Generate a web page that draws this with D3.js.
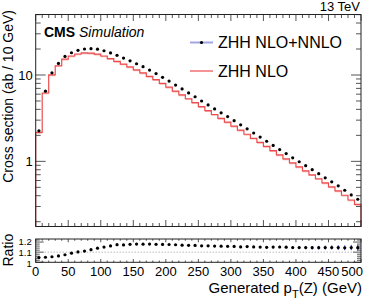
<!DOCTYPE html>
<head>
  <meta charset="utf-8">
  <script src="https://d3js.org/d3.v7.min.js"></script>
  <style>
    body { margin:0; background:#fff; }
    text { font-family: "Liberation Sans", Arial, sans-serif; fill:#000; }
    .frame { fill:none; stroke:#222; stroke-width:1; }
    .tick { stroke:#555; stroke-width:1; }
  </style>
</head>

<body>
  <script>
    // bin lower edges, 10 GeV wide, 0-500 GeV
    var binLo = d3.range(0, 500, 10);
    // ZHH NLO cross section per bin (ab / 10 GeV)
    var nlo = [2.16, 6.19, 10.05, 12.8, 15.26, 16.6, 17.5, 18.0, 17.96, 17.46,
               16.6, 15.5, 14.4, 13.4, 12.4, 11.44, 10.6, 9.66, 8.83, 7.99,
               7.23, 6.52, 5.9, 5.31, 4.80, 4.30, 3.87, 3.49, 3.15, 2.85,
               2.56, 2.30, 2.06, 1.85, 1.66, 1.49, 1.33, 1.19, 1.07, 0.96,
               0.864, 0.777, 0.699, 0.629, 0.563, 0.506, 0.454, 0.405, 0.357, 0.318];
    // ZHH NLO+NNLO
    var nnlo = [2.26, 6.5, 10.6, 13.6, 16.4, 18.1, 19.3, 20.0, 20.2, 19.9,
                19.1, 18.0, 16.9, 15.7, 14.6, 13.5, 12.5, 11.4, 10.4, 9.4,
                8.5, 7.65, 6.9, 6.2, 5.6, 5.0, 4.5, 4.05, 3.65, 3.3,
                2.96, 2.65, 2.38, 2.13, 1.91, 1.71, 1.53, 1.37, 1.23, 1.10,
                0.99, 0.89, 0.80, 0.72, 0.645, 0.58, 0.52, 0.463, 0.409, 0.364];
    // relative stat. uncertainty of NLO+NNLO
    var nnloErr = [0.002, 0.002, 0.002, 0.002, 0.002, 0.002, 0.002, 0.002, 0.002, 0.002,
                   0.002, 0.002, 0.002, 0.002, 0.003, 0.003, 0.003, 0.003, 0.003, 0.003,
                   0.004, 0.004, 0.004, 0.004, 0.005, 0.005, 0.005, 0.006, 0.006, 0.006,
                   0.007, 0.007, 0.008, 0.008, 0.009, 0.009, 0.010, 0.011, 0.011, 0.012,
                   0.013, 0.014, 0.015, 0.016, 0.017, 0.018, 0.020, 0.021, 0.023, 0.025];
    var xTickVals = d3.range(0, 501, 50);
    var yMajor = [1, 10];
    var ratioTicks = [1, 1.1, 1.2];

    var W = 374, H = 302;
    var L = 35.7, R = 361;
    var mainTop = 14.5, mainBot = 226.5;
    var ratTop = 239, ratBot = 262.3;

    var svg = d3.select('body').append('svg')
      .attr('width', W).attr('height', H);

    var x = d3.scaleLinear().domain([0, 500]).range([L, R]);
    var y = d3.scaleLog().domain([0.176, 50.2]).range([mainBot, mainTop]);
    var yr = d3.scaleLinear().domain([1.0, 1.23]).range([ratBot, ratTop]);

    // ---- main panel ----
    var band = svg.append('g');
    var stepPts = [];
    binLo.forEach(function(b, i) {
      stepPts.push([b, nlo[i]], [b + 10, nlo[i]]);
    });
    var line = d3.line().x(function(d) { return x(d[0]); }).y(function(d) { return y(d[1]); });
    var area = d3.area()
      .x(function(d) { return x(d[0]); })
      .y0(function(d) { return y(d[1] * 0.965); })
      .y1(function(d) { return y(d[1]); });
    band.append('path').datum(stepPts).attr('d', area).attr('fill', '#f6b3b3');
    band.append('path')
      .datum([[0, 0.176]].concat(stepPts).concat([[500, 0.176]]))
      .attr('d', line).attr('fill', 'none').attr('stroke', '#ec4c4c').attr('stroke-width', 1.2);

    svg.append('g').selectAll('circle')
      .data(nnlo).enter().append('circle')
      .attr('cx', function(d, i) { return x(binLo[i] + 5); })
      .attr('cy', function(d) { return y(d); })
      .attr('r', 1.6).attr('fill', '#000');

    // ticks, both panels, all four sides
    var tg = svg.append('g');
    d3.range(0, 501, 10).forEach(function(v) {
      var len = v % 50 === 0 ? 6.5 : 3.5;
      tg.append('line').attr('class', 'tick').attr('x1', x(v)).attr('x2', x(v)).attr('y1', mainBot).attr('y2', mainBot - len);
      tg.append('line').attr('class', 'tick').attr('x1', x(v)).attr('x2', x(v)).attr('y1', mainTop).attr('y2', mainTop + len);
      tg.append('line').attr('class', 'tick').attr('x1', x(v)).attr('x2', x(v)).attr('y1', ratBot).attr('y2', ratBot - len * 0.5);
      tg.append('line').attr('class', 'tick').attr('x1', x(v)).attr('x2', x(v)).attr('y1', ratTop).attr('y2', ratTop + len * 0.5);
    });
    var logTicks = [];
    [0.1, 1, 10].forEach(function(dec) {
      d3.range(1, 10).forEach(function(k) {
        var v = dec * k;
        if (v >= 0.176 && v <= 50.2) logTicks.push(v);
      });
    });
    logTicks.forEach(function(v) {
      var len = yMajor.indexOf(v) >= 0 ? 10 : 5;
      tg.append('line').attr('class', 'tick').attr('x1', L).attr('x2', L + len).attr('y1', y(v)).attr('y2', y(v));
      tg.append('line').attr('class', 'tick').attr('x1', R).attr('x2', R - len).attr('y1', y(v)).attr('y2', y(v));
    });
    d3.range(1.0, 1.231, 0.02).forEach(function(v) {
      var major = ratioTicks.some(function(t) { return Math.abs(t - v) < 1e-6; });
      var len = major ? 8 : 4;
      tg.append('line').attr('class', 'tick').attr('x1', L).attr('x2', L + len).attr('y1', yr(v)).attr('y2', yr(v));
      tg.append('line').attr('class', 'tick').attr('x1', R).attr('x2', R - len).attr('y1', yr(v)).attr('y2', yr(v));
    });

    svg.append('rect').attr('class', 'frame')
      .attr('x', L).attr('y', mainTop).attr('width', R - L).attr('height', mainBot - mainTop);

    // y labels
    yMajor.forEach(function(v) {
      svg.append('text').attr('x', L - 3).attr('y', y(v) + 5)
        .attr('text-anchor', 'end').style('font-size', '13px').text(v);
    });
    svg.append('text')
      .attr('transform', 'translate(13,10) rotate(-90)')
      .attr('text-anchor', 'end').style('font-size', '14px')
      .text('Cross section (ab / 10 GeV)');

    // CMS label
    var cms = svg.append('text').attr('x', 44).attr('y', 37).style('font-size', '14px');
    cms.append('tspan').style('font-weight', 'bold').text('CMS');
    cms.append('tspan').style('font-style', 'italic').text(' Simulation');

    svg.append('text').attr('x', 360).attr('y', 11).attr('text-anchor', 'end')
      .style('font-size', '13px').text('13 TeV');

    // legend
    var leg = svg.append('g');
    leg.append('line').attr('x1', 190).attr('x2', 213).attr('y1', 42.5).attr('y2', 42.5)
      .attr('stroke', '#a4a4e4').attr('stroke-width', 2);
    leg.append('circle').attr('cx', 201.5).attr('cy', 42.5).attr('r', 1.6).attr('fill', '#000');
    leg.append('text').attr('x', 218).attr('y', 48.3).style('font-size', '16px').text('ZHH NLO+NNLO');
    leg.append('line').attr('x1', 190).attr('x2', 213).attr('y1', 71).attr('y2', 71)
      .attr('stroke', '#ec4c4c').attr('stroke-width', 1.2);
    leg.append('text').attr('x', 218).attr('y', 76.8).style('font-size', '16px').text('ZHH NLO');

    // ---- ratio panel ----
    svg.append('line').attr('x1', L).attr('x2', R).attr('y1', yr(1.1)).attr('y2', yr(1.1))
      .attr('stroke', '#999').attr('stroke-dasharray', '1,2');
    var rg = svg.append('g');
    nnlo.forEach(function(v, i) {
      var r = v / nlo[i];
      var e = r * nnloErr[i];
      var cx = x(binLo[i] + 5);
      rg.append('line').attr('x1', cx).attr('x2', cx)
        .attr('y1', yr(r - e)).attr('y2', yr(r + e))
        .attr('stroke', '#3434c8').attr('stroke-width', 1);
      rg.append('circle').attr('cx', cx).attr('cy', yr(r)).attr('r', 1.6).attr('fill', '#000');
    });
    svg.append('rect').attr('class', 'frame')
      .attr('x', L).attr('y', ratTop).attr('width', R - L).attr('height', ratBot - ratTop);

    var ratioBase = [266.5, 255.5, 244.5];
    ratioTicks.forEach(function(v, i) {
      svg.append('text').attr('x', L - 4).attr('y', ratioBase[i])
        .attr('text-anchor', 'end').style('font-size', '9.5px').text(v);
    });
    svg.append('text')
      .attr('transform', 'translate(13,266.5) rotate(-90)')
      .style('font-size', '14px').text('Ratio');

    xTickVals.forEach(function(v, i) {
      var last = i === xTickVals.length - 1;
      svg.append('text').attr('x', last ? 363 : x(v)).attr('y', 276)
        .attr('text-anchor', last ? 'end' : 'middle').style('font-size', '13px').text(v);
    });

    var xt = svg.append('text').attr('x', 362).attr('y', 293)
      .attr('text-anchor', 'end').style('font-size', '15px');
    xt.append('tspan').text('Generated p');
    xt.append('tspan').attr('dy', 5).style('font-size', '11px').text('T');
    xt.append('tspan').attr('dy', -5).text('(Z) (GeV)');
  </script>
</body>
